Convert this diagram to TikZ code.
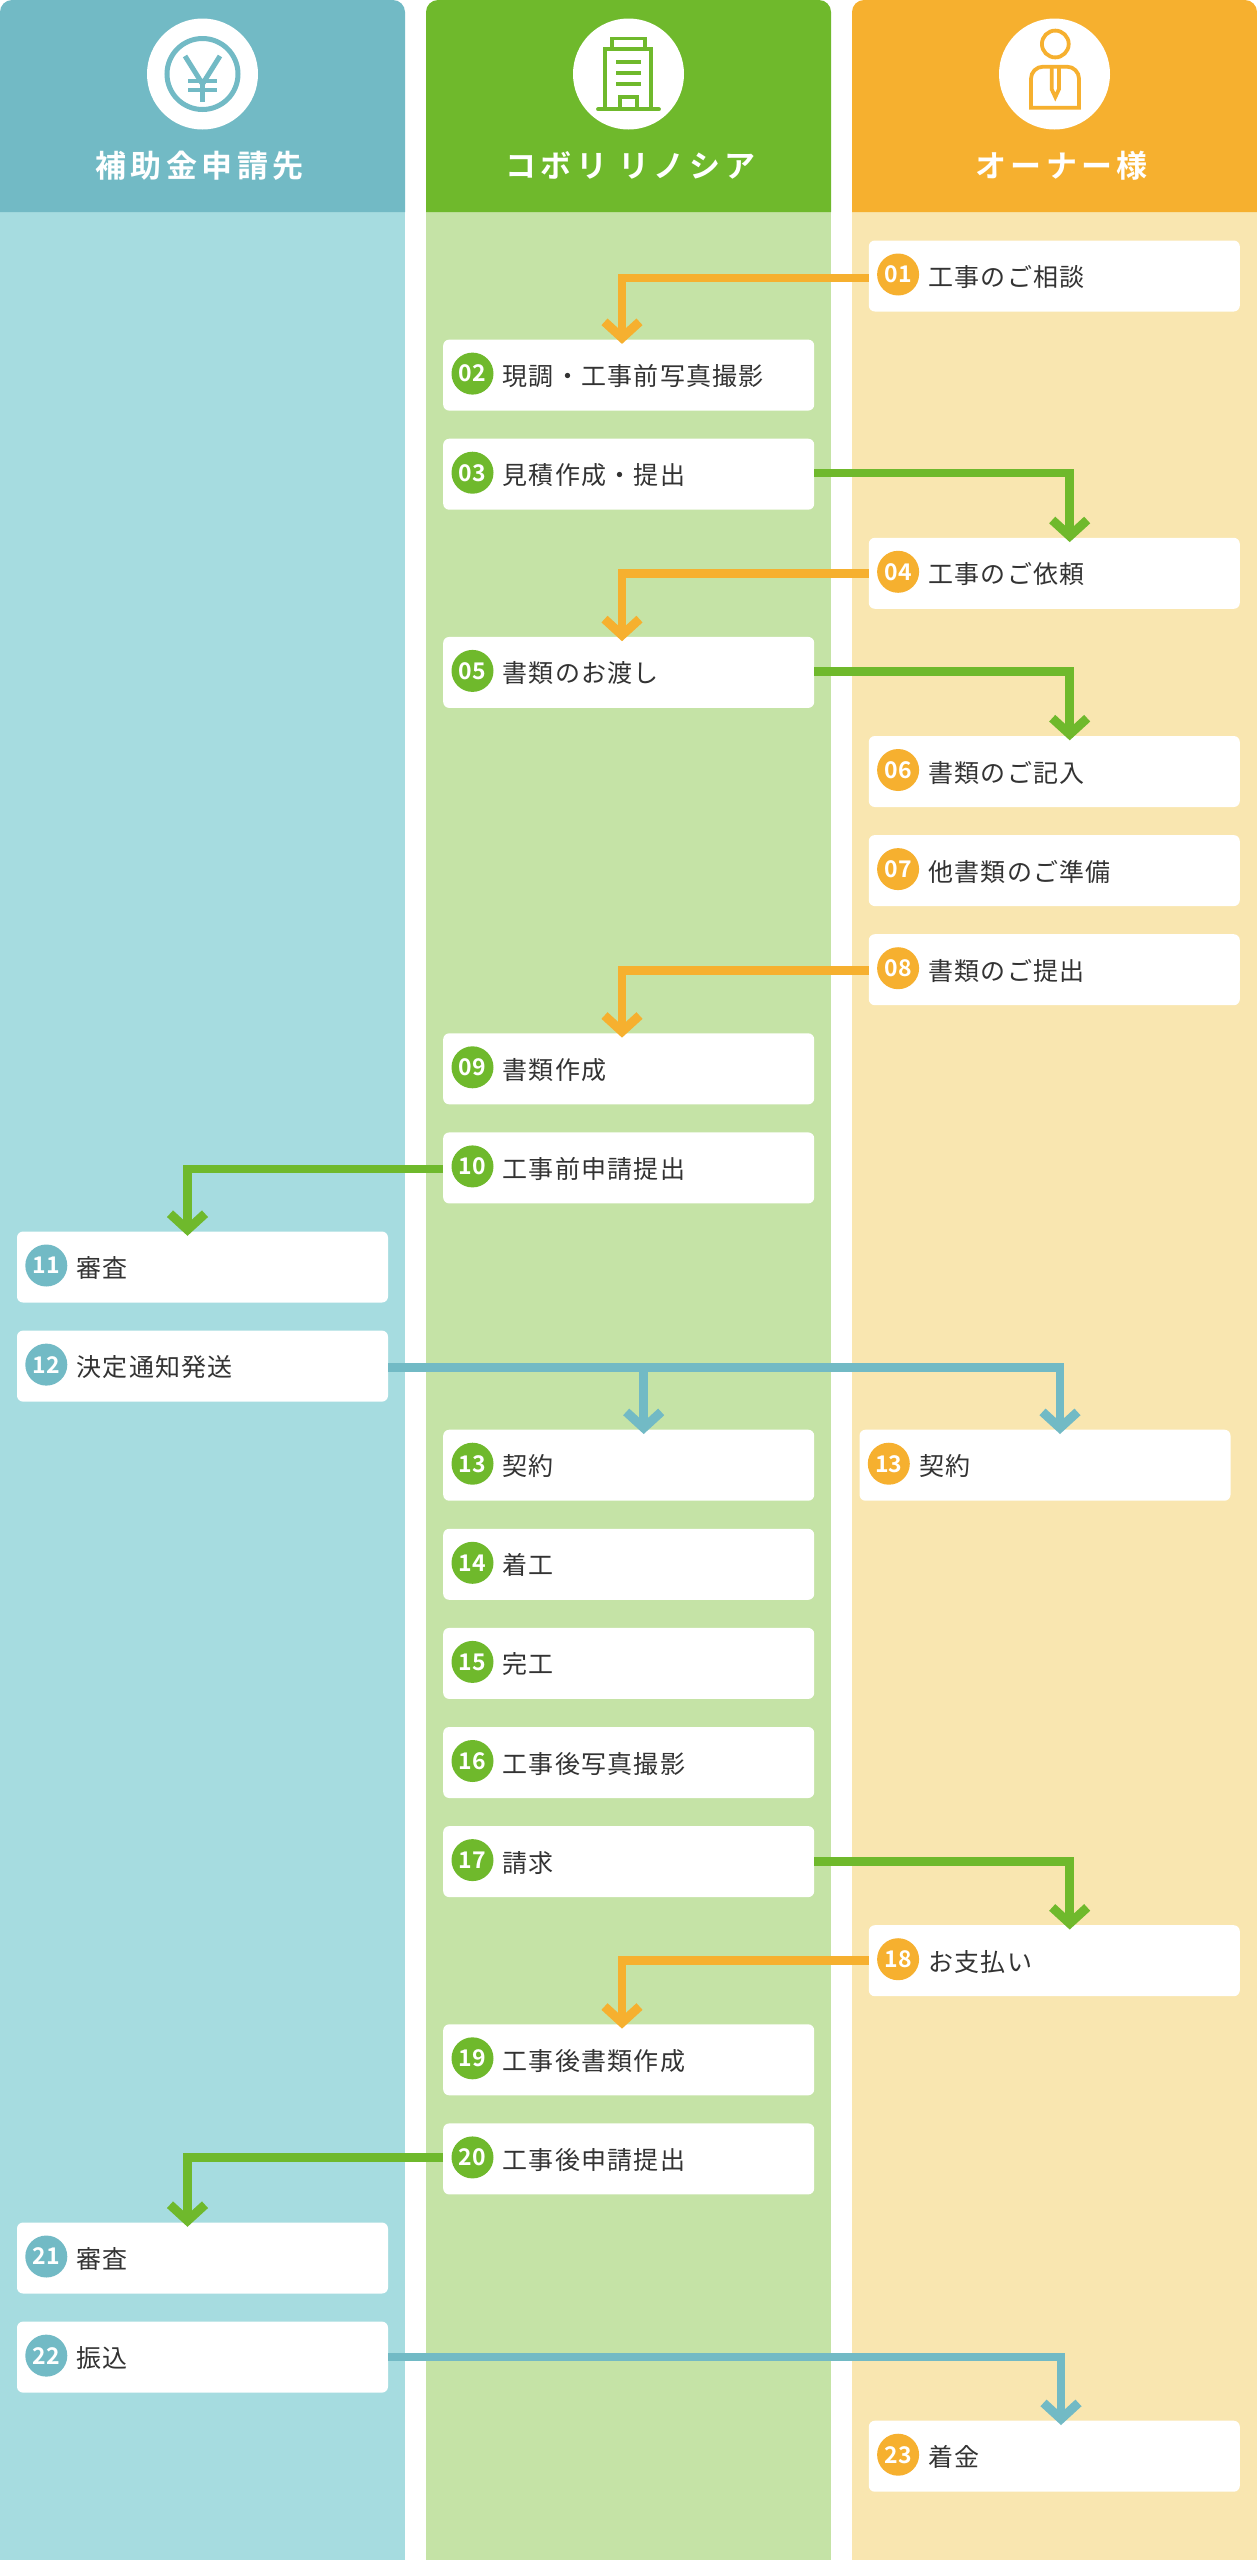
\documentclass[tikz,border=0pt]{standalone}
\usepackage{fontspec}
\usepackage{tikz}
\usetikzlibrary{arrows.meta}
\setmainfont{Noto Sans CJK JP}
\newfontfamily\steptextfont[LetterSpace=5]{Noto Sans CJK JP}
\newfontfamily\headtextfont[LetterSpace=14]{Noto Sans CJK JP Bold}
\newfontfamily\badgefont{Noto Sans CJK JP Bold}
\definecolor{bluedark}{HTML}{72BAC5}
\definecolor{bluelight}{HTML}{A6DCE0}
\definecolor{greendark}{HTML}{6FB92C}
\definecolor{greenlight}{HTML}{C5E3A6}
\definecolor{orangedark}{HTML}{F6B02F}
\definecolor{orangelight}{HTML}{F9E6B0}
\definecolor{steptext}{HTML}{333333}

\begin{document}
\begin{tikzpicture}[x=1pt,y=1pt]
	\tikzstyle{every node}+=[inner sep=0pt]
	\tikzstyle{stepbox}=[fill=white,rounded corners=6pt,minimum width=371pt,minimum height=71pt]
	\tikzstyle{badge}=[circle,minimum size=42pt,text=white,font=\badgefont\fontsize{23}{26}\selectfont]
	\tikzstyle{steplabel}=[anchor=west,yshift=-1pt,text=steptext,text height=22pt,text depth=3pt,font=\steptextfont\fontsize{25}{28}\selectfont]
	\tikzstyle{headlabel}=[text=white,text height=27pt,text depth=4pt,font=\headtextfont\fontsize{31}{36}\selectfont]
	\tikzstyle{flow}=[line width=8.5pt,-{Straight Barb[length=16pt,width=35pt,line width=9pt]}]
	\tikzstyle{icon}=[line width=3.8pt]
	\useasboundingbox (0,-2560) rectangle (1257,0);

	\fill [bluelight] (0,-212) rectangle (405,-2560);
	\fill [greenlight] (426,-212) rectangle (831,-2560);
	\fill [orangelight] (852,-212) rectangle (1257,-2560);
	\fill [bluedark] (0,-212) -- (0,-12) arc (180:90:12) -- (393,0) arc (90:0:12) -- (405,-212) -- cycle;
	\fill [greendark] (426,-212) -- (426,-12) arc (180:90:12) -- (819,0) arc (90:0:12) -- (831,-212) -- cycle;
	\fill [orangedark] (852,-212) -- (852,-12) arc (180:90:12) -- (1245,0) arc (90:0:12) -- (1257,-212) -- cycle;

	\fill [white] (202.5,-74) circle (55.5);
	\draw [bluedark,line width=5pt] (202.5,-74) circle (35.5);
	\draw [bluedark,line width=5pt,line join=round] (185,-56) -- (202.5,-84) -- (220,-56);
	\draw [bluedark,line width=5pt] (202.5,-84) -- (202.5,-102);
	\draw [bluedark,line width=4pt] (188,-81) -- (217,-81);
	\draw [bluedark,line width=4pt] (188,-90) -- (217,-90);

	\fill [white] (628.5,-74) circle (55.5);
	\draw [greendark,icon] (611.8,-48.7) -- (611.8,-38.4) -- (645.2,-38.4) -- (645.2,-48.7);
	\draw [greendark,icon] (605,-109) -- (605,-48.7) -- (651,-48.7) -- (651,-109);
	\draw [greendark,icon] (616,-61.7) -- (641.3,-61.7);
	\draw [greendark,icon] (616,-73) -- (641.3,-73);
	\draw [greendark,icon] (616,-84.3) -- (641.3,-84.3);
	\draw [greendark,icon] (620,-109) -- (620,-96.8) -- (636.6,-96.8) -- (636.6,-109);
	\draw [greendark,icon,line cap=round] (598,-109.3) -- (659,-109.3);

	\fill [white] (1054.5,-74) circle (55.5);
	\draw [orangedark,icon] (1055.3,-44) circle (13.4);
	\draw [orangedark,icon] (1031,-107.7) -- (1031,-78.7) arc (180:90:12) -- (1067,-66.7) arc (90:0:12) -- (1079,-107.7) -- cycle;
	\draw [orangedark,icon] (1051.7,-66.7) -- (1051.7,-89.3) -- (1055.3,-97) -- (1058.9,-89.3) -- (1058.9,-66.7);

	\node (h1) [headlabel] at (199.5,-166) {補助金申請先};
	\node (h2) [headlabel] at (630.5,-166) {コボリ リノシア};
	\node (h3) [headlabel] at (1061.5,-166) {オーナー様};

	\node (n01) [stepbox] at (1054.3,-276) {};
	\node (b01) [badge,fill=orangedark] at ([xshift=29.5pt,yshift=1.5pt]n01.west) {01};
	\node (t01) [steplabel] at ([xshift=59.5pt]n01.west) {工事のご相談};
	\node (n02) [stepbox] at (628.7,-375.1) {};
	\node (b02) [badge,fill=greendark] at ([xshift=29.5pt,yshift=1.5pt]n02.west) {02};
	\node (t02) [steplabel] at ([xshift=59.5pt]n02.west) {現調・工事前写真撮影};
	\node (n03) [stepbox] at (628.7,-474.2) {};
	\node (b03) [badge,fill=greendark] at ([xshift=29.5pt,yshift=1.5pt]n03.west) {03};
	\node (t03) [steplabel] at ([xshift=59.5pt]n03.west) {見積作成・提出};
	\node (n04) [stepbox] at (1054.3,-573.3) {};
	\node (b04) [badge,fill=orangedark] at ([xshift=29.5pt,yshift=1.5pt]n04.west) {04};
	\node (t04) [steplabel] at ([xshift=59.5pt]n04.west) {工事のご依頼};
	\node (n05) [stepbox] at (628.7,-672.4) {};
	\node (b05) [badge,fill=greendark] at ([xshift=29.5pt,yshift=1.5pt]n05.west) {05};
	\node (t05) [steplabel] at ([xshift=59.5pt]n05.west) {書類のお渡し};
	\node (n06) [stepbox] at (1054.3,-771.5) {};
	\node (b06) [badge,fill=orangedark] at ([xshift=29.5pt,yshift=1.5pt]n06.west) {06};
	\node (t06) [steplabel] at ([xshift=59.5pt]n06.west) {書類のご記入};
	\node (n07) [stepbox] at (1054.3,-870.6) {};
	\node (b07) [badge,fill=orangedark] at ([xshift=29.5pt,yshift=1.5pt]n07.west) {07};
	\node (t07) [steplabel] at ([xshift=59.5pt]n07.west) {他書類のご準備};
	\node (n08) [stepbox] at (1054.3,-969.7) {};
	\node (b08) [badge,fill=orangedark] at ([xshift=29.5pt,yshift=1.5pt]n08.west) {08};
	\node (t08) [steplabel] at ([xshift=59.5pt]n08.west) {書類のご提出};
	\node (n09) [stepbox] at (628.7,-1068.8) {};
	\node (b09) [badge,fill=greendark] at ([xshift=29.5pt,yshift=1.5pt]n09.west) {09};
	\node (t09) [steplabel] at ([xshift=59.5pt]n09.west) {書類作成};
	\node (n10) [stepbox] at (628.7,-1167.9) {};
	\node (b10) [badge,fill=greendark] at ([xshift=29.5pt,yshift=1.5pt]n10.west) {10};
	\node (t10) [steplabel] at ([xshift=59.5pt]n10.west) {工事前申請提出};
	\node (n11) [stepbox] at (202.5,-1267) {};
	\node (b11) [badge,fill=bluedark] at ([xshift=29.5pt,yshift=1.5pt]n11.west) {11};
	\node (t11) [steplabel] at ([xshift=59.5pt]n11.west) {審査};
	\node (n12) [stepbox] at (202.5,-1366.1) {};
	\node (b12) [badge,fill=bluedark] at ([xshift=29.5pt,yshift=1.5pt]n12.west) {12};
	\node (t12) [steplabel] at ([xshift=59.5pt]n12.west) {決定通知発送};
	\node (n13) [stepbox] at (628.7,-1465.2) {};
	\node (b13) [badge,fill=greendark] at ([xshift=29.5pt,yshift=1.5pt]n13.west) {13};
	\node (t13) [steplabel] at ([xshift=59.5pt]n13.west) {契約};
	\node (n13b) [stepbox] at (1045,-1465.2) {};
	\node (b13b) [badge,fill=orangedark] at ([xshift=29.5pt,yshift=1.5pt]n13b.west) {13};
	\node (t13b) [steplabel] at ([xshift=59.5pt]n13b.west) {契約};
	\node (n14) [stepbox] at (628.7,-1564.3) {};
	\node (b14) [badge,fill=greendark] at ([xshift=29.5pt,yshift=1.5pt]n14.west) {14};
	\node (t14) [steplabel] at ([xshift=59.5pt]n14.west) {着工};
	\node (n15) [stepbox] at (628.7,-1663.4) {};
	\node (b15) [badge,fill=greendark] at ([xshift=29.5pt,yshift=1.5pt]n15.west) {15};
	\node (t15) [steplabel] at ([xshift=59.5pt]n15.west) {完工};
	\node (n16) [stepbox] at (628.7,-1762.5) {};
	\node (b16) [badge,fill=greendark] at ([xshift=29.5pt,yshift=1.5pt]n16.west) {16};
	\node (t16) [steplabel] at ([xshift=59.5pt]n16.west) {工事後写真撮影};
	\node (n17) [stepbox] at (628.7,-1861.6) {};
	\node (b17) [badge,fill=greendark] at ([xshift=29.5pt,yshift=1.5pt]n17.west) {17};
	\node (t17) [steplabel] at ([xshift=59.5pt]n17.west) {請求};
	\node (n18) [stepbox] at (1054.3,-1960.7) {};
	\node (b18) [badge,fill=orangedark] at ([xshift=29.5pt,yshift=1.5pt]n18.west) {18};
	\node (t18) [steplabel] at ([xshift=59.5pt]n18.west) {お支払い};
	\node (n19) [stepbox] at (628.7,-2059.8) {};
	\node (b19) [badge,fill=greendark] at ([xshift=29.5pt,yshift=1.5pt]n19.west) {19};
	\node (t19) [steplabel] at ([xshift=59.5pt]n19.west) {工事後書類作成};
	\node (n20) [stepbox] at (628.7,-2158.9) {};
	\node (b20) [badge,fill=greendark] at ([xshift=29.5pt,yshift=1.5pt]n20.west) {20};
	\node (t20) [steplabel] at ([xshift=59.5pt]n20.west) {工事後申請提出};
	\node (n21) [stepbox] at (202.5,-2258) {};
	\node (b21) [badge,fill=bluedark] at ([xshift=29.5pt,yshift=1.5pt]n21.west) {21};
	\node (t21) [steplabel] at ([xshift=59.5pt]n21.west) {審査};
	\node (n22) [stepbox] at (202.5,-2357.1) {};
	\node (b22) [badge,fill=bluedark] at ([xshift=29.5pt,yshift=1.5pt]n22.west) {22};
	\node (t22) [steplabel] at ([xshift=59.5pt]n22.west) {振込};
	\node (n23) [stepbox] at (1054.3,-2456.2) {};
	\node (b23) [badge,fill=orangedark] at ([xshift=29.5pt,yshift=1.5pt]n23.west) {23};
	\node (t23) [steplabel] at ([xshift=59.5pt]n23.west) {着金};

	\coordinate (c02) at ([xshift=-6.7pt,yshift=-4.5pt]n02.north);
	\coordinate (c04) at ([xshift=15.4pt,yshift=-4.5pt]n04.north);
	\coordinate (c05) at ([xshift=-6.7pt,yshift=-4.5pt]n05.north);
	\coordinate (c06) at ([xshift=15.4pt,yshift=-4.5pt]n06.north);
	\coordinate (c09) at ([xshift=-6.7pt,yshift=-4.5pt]n09.north);
	\coordinate (c11) at ([xshift=-15pt,yshift=-4.5pt]n11.north);
	\coordinate (c13) at ([xshift=15pt,yshift=-4.5pt]n13.north);
	\coordinate (c13b) at ([xshift=15pt,yshift=-4.5pt]n13b.north);
	\coordinate (c18) at ([xshift=15.4pt,yshift=-4.5pt]n18.north);
	\coordinate (c19) at ([xshift=-6.7pt,yshift=-4.5pt]n19.north);
	\coordinate (c21) at ([xshift=-15pt,yshift=-4.5pt]n21.north);
	\coordinate (c23) at ([xshift=6.7pt,yshift=-4.5pt]n23.north);

	\draw [flow,orangedark] ([yshift=-2pt]n01.west) -| (c02);
	\draw [flow,greendark] ([yshift=1pt]n03.east) -| (c04);
	\draw [flow,orangedark] (n04.west) -| (c05);
	\draw [flow,greendark] ([yshift=1pt]n05.east) -| (c06);
	\draw [flow,orangedark] ([yshift=-1pt]n08.west) -| (c09);
	\draw [flow,greendark] ([yshift=-1pt]n10.west) -| (c11);
	\draw [flow,bluedark] ([yshift=-1.5pt]n12.east) -| (c13);
	\draw [flow,bluedark] ([yshift=-1.5pt]n12.east) -| (c13b);
	\draw [flow,greendark] (n17.east) -| (c18);
	\draw [flow,orangedark] (n18.west) -| (c19);
	\draw [flow,greendark] ([yshift=1.5pt]n20.west) -| (c21);
	\draw [flow,bluedark] (n22.east) -| (c23);
\end{tikzpicture}
\end{document}
